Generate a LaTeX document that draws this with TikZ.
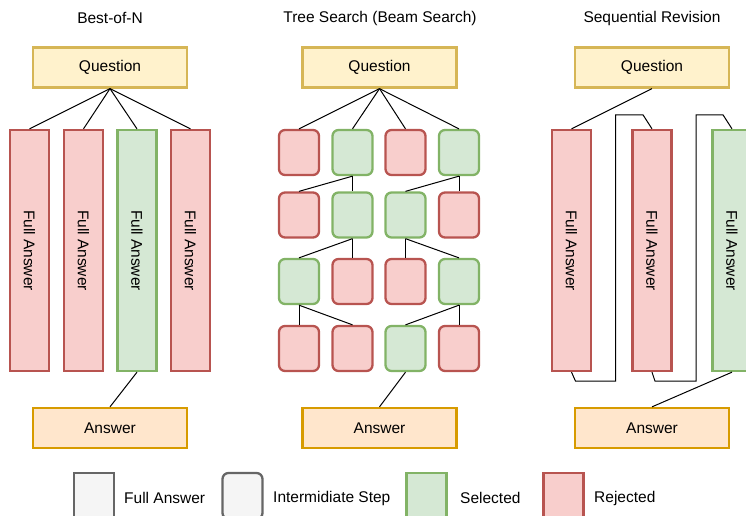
\documentclass[tikz,border=0pt]{standalone}
\usepackage{fontspec}
\setmainfont{Liberation Sans}
\usetikzlibrary{calc}
\definecolor{qfill}{HTML}{FFF2CC}\definecolor{qdraw}{HTML}{D6B656}
\definecolor{afill}{HTML}{FFE6CC}\definecolor{adraw}{HTML}{D79B00}
\definecolor{gfill}{HTML}{D5E8D4}\definecolor{gdraw}{HTML}{82B366}
\definecolor{rfill}{HTML}{F8CECC}\definecolor{rdraw}{HTML}{B85450}
\definecolor{nfill}{HTML}{F5F5F5}\definecolor{ndraw}{HTML}{666666}
\begin{document}
\begin{tikzpicture}[x=1pt,y=-1pt,
  every node/.style={font=\fontsize{15.5}{18}\selectfont, inner sep=0pt},
  box/.style={draw, line width=2.3pt, rectangle},
  qbox/.style={box, fill=qfill, draw=qdraw, minimum width=154pt, minimum height=40pt},
  abox/.style={box, fill=afill, draw=adraw, minimum width=154pt, minimum height=40pt},
  full/.style={box, minimum width=39pt, minimum height=241pt},
  stepbox/.style={box, rounded corners=6pt, minimum width=40pt, minimum height=45pt},
  legbox/.style={box, minimum width=40pt, minimum height=46pt},
  sel/.style={fill=gfill, draw=gdraw},
  rej/.style={fill=rfill, draw=rdraw},
  neutral/.style={fill=nfill, draw=ndraw},
  link/.style={line width=1pt, black},
  vtext/.style={rotate=-90}
]
\useasboundingbox (0,0) rectangle (746,515);

% ---------- titles ----------
\node (t1) at (110,18) {Best-of-N};
\node (t2) at (380,18) {Tree Search (Beam Search)};
\node (t3) at (652,18) {Sequential Revision};

% ---------- Best-of-N ----------
\node[qbox] (bq) at (110,67.5) {Question};
\node[full,rej] (b1) at (29.5,250.5) {};
\node[full,rej] (b2) at (83.5,250.5) {};
\node[full,sel] (b3) at (137,250.5) {};
\node[full,rej] (b4) at (190.5,250.5) {};
\foreach \i in {1,...,4}{
  \node[vtext] (b\i t) at (b\i) {Full Answer};
  \draw[link] (bq.south) -- (b\i.north);
}
\node[abox] (ba) at (110,428) {Answer};
\draw[link] (b3.south) -- (ba.north);

% ---------- Tree search ----------
\node[qbox] (tq) at (379.5,67.5) {Question};
\def\ca{299}\def\cb{352.5}\def\cc{405.5}\def\cd{459}
% row 1
\node[stepbox,rej] (r11) at (\ca,152.5) {};
\node[stepbox,sel] (r12) at (\cb,152.5) {};
\node[stepbox,rej] (r13) at (\cc,152.5) {};
\node[stepbox,sel] (r14) at (\cd,152.5) {};
% row 2
\node[stepbox,rej] (r21) at (\ca,215) {};
\node[stepbox,sel] (r22) at (\cb,215) {};
\node[stepbox,sel] (r23) at (\cc,215) {};
\node[stepbox,rej] (r24) at (\cd,215) {};
% row 3
\node[stepbox,sel] (r31) at (\ca,281.5) {};
\node[stepbox,rej] (r32) at (\cb,281.5) {};
\node[stepbox,rej] (r33) at (\cc,281.5) {};
\node[stepbox,sel] (r34) at (\cd,281.5) {};
% row 4
\node[stepbox,rej] (r41) at (\ca,348.5) {};
\node[stepbox,rej] (r42) at (\cb,348.5) {};
\node[stepbox,sel] (r43) at (\cc,348.5) {};
\node[stepbox,rej] (r44) at (\cd,348.5) {};
\foreach \j in {1,...,4}{\draw[link] (tq.south) -- (r1\j.north);}
\draw[link] (r12.south) -- (r21.north);
\draw[link] (r12.south) -- (r22.north);
\draw[link] (r14.south) -- (r23.north);
\draw[link] (r14.south) -- (r24.north);
\draw[link] (r22.south) -- (r31.north);
\draw[link] (r22.south) -- (r32.north);
\draw[link] (r23.south) -- (r33.north);
\draw[link] (r23.south) -- (r34.north);
\draw[link] (r31.south) -- (r41.north);
\draw[link] (r31.south) -- (r42.north);
\draw[link] (r34.south) -- (r43.north);
\draw[link] (r34.south) -- (r44.north);
\node[abox] (ta) at (379.5,428) {Answer};
\draw[link] (r43.south) -- (ta.north);

% ---------- Sequential revision ----------
\node[qbox] (sq) at (652,67.5) {Question};
\node[full,rej] (s1) at (571.5,250.5) {};
\node[full,rej] (s2) at (652,250.5) {};
\node[full,sel] (s3) at (732,250.5) {};
\foreach \i in {1,2,3}{\node[vtext] (s\i t) at (s\i) {Full Answer};}
\node[abox] (sa) at (652,428) {Answer};
\draw[link] (sq.south) -- (s1.north);
\draw[link] (s1.south) -- ++(4,9) -- ++(40,0) |- ($(s2.north)+(-9,-14)$) -- (s2.north);
\draw[link] (s2.south) -- ++(3,9) -- ++(41,0) |- ($(s3.north)+(-9,-14)$) -- (s3.north);
\draw[link] (s3.south) -- (sa.north);

% ---------- legend ----------
\node[legbox,neutral] (l1) at (94,496) {};
\node[anchor=west] (l1t) at (124,498) {Full Answer};
\node[legbox,neutral,rounded corners=6pt] (l2) at (242.5,496) {};
\node[anchor=west] (l2t) at (273,498) {Intermidiate Step};
\node[legbox,sel] (l3) at (426.5,496) {};
\node[anchor=west] (l3t) at (460,498) {Selected};
\node[legbox,rej] (l4) at (563.5,496) {};
\node[anchor=west] (l4t) at (594,498) {Rejected};
\end{tikzpicture}
\end{document}
